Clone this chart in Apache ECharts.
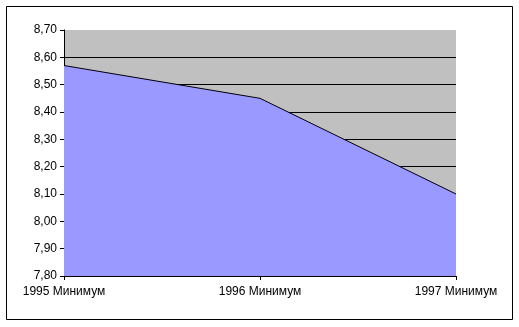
<!DOCTYPE html>
<html>
<head>
<meta charset="utf-8">
<script src="https://cdn.jsdelivr.net/npm/echarts@6/dist/echarts.min.js"></script>
<style>
  html, body { margin: 0; padding: 0; background: #fff; }
  #chart { width: 519px; height: 327px; }
</style>
</head>
<body>
<div id="chart"></div>
<script>
// Yearly minimum values
const categories = ['1995 Минимум', '1996 Минимум', '1997 Минимум'];
const minimumValues = [8.57, 8.45, 8.10];
const yMin = 7.8;
const yMax = 8.7;
const yStep = 0.1;

const chart = echarts.init(document.getElementById('chart'), null, { renderer: 'canvas' });

const labelFont = { fontFamily: 'Liberation Sans, Arial, sans-serif', fontSize: 12, color: '#000' };

chart.setOption({
  animation: false,
  backgroundColor: '#fff',
  graphic: [{
    type: 'rect',
    shape: { x: 6.5, y: 6.5, width: 506, height: 313 },
    style: { fill: 'none', stroke: '#000', lineWidth: 1 },
    z: 100
  }],
  grid: {
    left: 64, top: 30, right: 63, bottom: 51,
    show: true, backgroundColor: '#c0c0c0', borderWidth: 0
  },
  xAxis: {
    type: 'category',
    data: categories,
    boundaryGap: false,
    axisLine: { lineStyle: { color: '#000', width: 1 } },
    axisTick: { show: true, length: 4, lineStyle: { color: '#000' } },
    axisLabel: Object.assign({ margin: 10, interval: 0 }, labelFont),
    splitLine: { show: false }
  },
  yAxis: {
    type: 'value',
    min: yMin, max: yMax, interval: yStep,
    axisLine: { show: true, lineStyle: { color: '#000', width: 1 } },
    axisTick: { show: true, length: 4, lineStyle: { color: '#000' } },
    axisLabel: Object.assign({
      margin: 7,
      formatter: v => v.toFixed(2).replace('.', ',')
    }, labelFont),
    splitLine: { show: true, showMaxLine: false, lineStyle: { color: '#000', width: 1 } }
  },
  series: [{
    type: 'line',
    data: minimumValues,
    symbol: 'none',
    lineStyle: { color: '#000', width: 1 },
    areaStyle: { color: '#9999ff', opacity: 1, origin: 'start' },
    z: 3
  }]
});
</script>
</body>
</html>
